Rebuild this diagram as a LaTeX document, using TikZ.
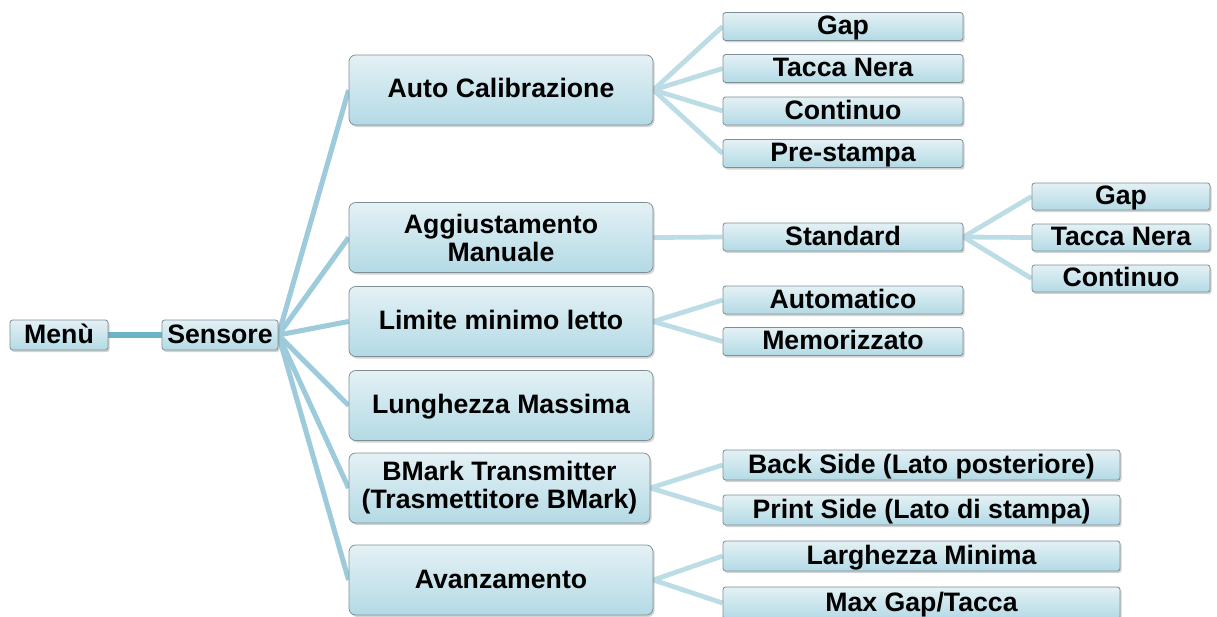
\documentclass[tikz,border=0pt]{standalone}
\usepackage{fontspec}
\setmainfont{Liberation Sans}
\usetikzlibrary{shadows,backgrounds}
\definecolor{boxtop}{HTML}{E4F1F5}
\definecolor{boxbot}{HTML}{B3DAE5}
\definecolor{boxedge}{HTML}{7E9095}
\definecolor{linedark}{HTML}{6CB3C8}
\definecolor{linemid}{HTML}{9DCBDB}
\definecolor{linelight}{HTML}{BCDCE6}
\tikzset{
  box/.style={draw=boxedge, line width=0.6pt, top color=boxtop, bottom color=boxbot,
    rounded corners=2pt, font=\fontsize{20}{21}\selectfont\bfseries,
    inner sep=0pt, drop shadow={shadow xshift=1.2pt, shadow yshift=-1.5pt, opacity=0.35}},
  oneline/.style={text height=15.6pt, text depth=3.6pt},
  bigbox/.style={box, rounded corners=5pt, minimum width=228pt, minimum height=52.5pt},
  smallbox/.style={box, oneline, minimum width=180pt, minimum height=21pt},
  widebox/.style={box, oneline, minimum width=297.75pt, minimum height=22.5pt},
  rightbox/.style={box, oneline, minimum width=133.5pt, minimum height=20.25pt},
  conn/.style={line width=3.8pt, color=linemid},
  conn2/.style={line width=3.6pt, color=linelight},
}
\begin{document}
\begin{tikzpicture}[x=0.75pt,y=-0.75pt]
\useasboundingbox (0,0) rectangle (1217,617);
% level 1
\node[box, oneline, minimum width=73.5pt, minimum height=22.5pt] (menu) at (59,335) {Menù};
\node[box, oneline, minimum width=87pt, minimum height=22.5pt] (sens) at (220,335) {Sensore};
% level 2
\node[bigbox, oneline] (auto) at (501,90) {Auto Calibrazione};
\node[bigbox, align=center] (aggi) at (501,237.5) {Aggiustamento\\Manuale};
\node[bigbox, oneline] (lim) at (501,321.5) {Limite minimo letto};
\node[bigbox, oneline] (lung) at (501,405.5) {Lunghezza Massima};
\node[bigbox, align=center, minimum width=225.75pt] (bmark) at (499.5,488) {BMark Transmitter\\(Trasmettitore BMark)};
\node[bigbox, oneline] (avan) at (501,580) {Avanzamento};
% level 3
\node[smallbox] (gap1) at (843,26.5) {Gap};
\node[smallbox] (tac1) at (843,68.5) {Tacca Nera};
\node[smallbox] (con1) at (843,111) {Continuo};
\node[smallbox] (pre) at (843,153.5) {Pre-stampa};
\node[smallbox] (std) at (843,237) {Standard};
\node[smallbox] (autom) at (843,300) {Automatico};
\node[smallbox] (mem) at (843,341.5) {Memorizzato};
\node[widebox] (back) at (921.5,465) {Back Side (Lato posteriore)};
\node[widebox] (print) at (921.5,510) {Print Side (Lato di stampa)};
\node[widebox] (larg) at (921.5,556) {Larghezza Minima};
\node[widebox, minimum height=24pt] (maxg) at (921.5,603) {Max Gap/Tacca};
% level 4
\node[rightbox] (gap2) at (1121,196.5) {Gap};
\node[rightbox] (tac2) at (1121,237.5) {Tacca Nera};
\node[rightbox] (con2) at (1121,278.5) {Continuo};
\begin{scope}[on background layer]
\draw[line width=4.5pt, color=linedark] (menu.east) -- (sens.west);
\foreach \t in {auto,aggi,lim,lung,bmark,avan}
  \draw[conn] (sens.east) -- (\t.west);
\foreach \t in {gap1,tac1,con1,pre}
  \draw[conn2] (auto.east) -- (\t.west);
\draw[conn2] (aggi.east) -- (std.west);
\foreach \t in {gap2,tac2,con2}
  \draw[conn2] (std.east) -- (\t.west);
\foreach \t in {autom,mem}
  \draw[conn2] (lim.east) -- (\t.west);
\foreach \t in {back,print}
  \draw[conn2] (bmark.east) -- (\t.west);
\foreach \t in {larg,maxg}
  \draw[conn2] (avan.east) -- (\t.west);
\end{scope}
\end{tikzpicture}
\end{document}
